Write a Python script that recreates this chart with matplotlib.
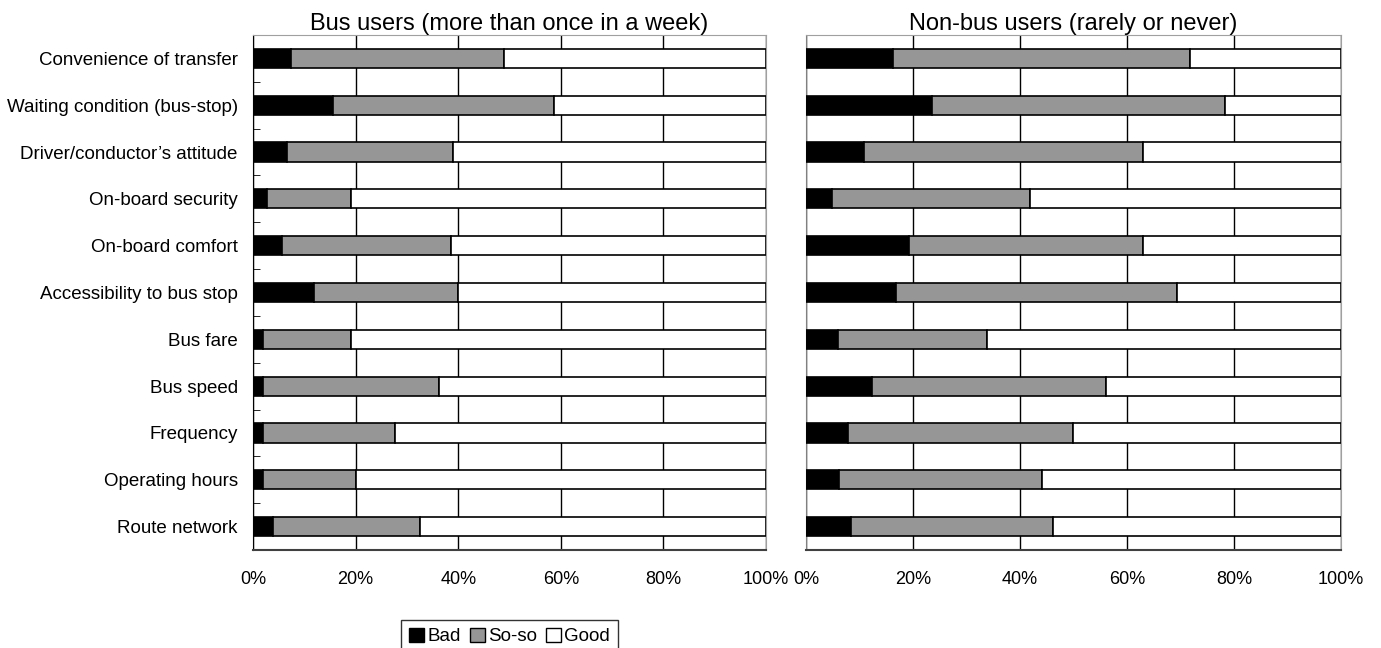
import numpy as np
import matplotlib.pyplot as plt
from matplotlib.patches import Patch

plt.rcParams['font.family'] = ['Liberation Sans', 'DejaVu Sans']

categories = ['Convenience of transfer', 'Waiting condition (bus-stop)',
              'Driver/conductor\u2019s attitude', 'On-board security',
              'On-board comfort', 'Accessibility to bus stop', 'Bus fare',
              'Bus speed', 'Frequency', 'Operating hours', 'Route network']

# percent of respondents: Bad / So-so (Good is the remainder)
users_bad = [7.5, 15.6, 6.6, 2.8, 5.6, 11.9, 1.9, 1.9, 1.9, 1.9, 3.9]
users_soso = [41.5, 43.1, 32.4, 16.3, 33.0, 28.1, 17.2, 34.4, 25.7, 18.2, 28.7]

nonusers_bad = [16.2, 23.6, 10.8, 4.9, 19.2, 16.9, 5.9, 12.3, 7.9, 6.2, 8.5]
nonusers_soso = [55.5, 54.8, 52.2, 36.9, 43.8, 52.5, 27.9, 43.7, 42.0, 37.9, 37.6]

titles = ['Bus users (more than once in a week)', 'Non-bus users (rarely or never)']
xticks = [0, 20, 40, 60, 80, 100]
xticklabels = ['0%', '20%', '40%', '60%', '80%', '100%']

gray = '#969696'

fig = plt.figure(figsize=(13.81, 6.48), dpi=100)
ax1 = fig.add_axes([0.1832, 0.1512, 0.3715, 0.7948])
ax2 = fig.add_axes([0.5836, 0.1512, 0.3874, 0.7948])

y = np.arange(len(categories))

for ax, bad, soso, title in [(ax1, users_bad, users_soso, titles[0]),
                             (ax2, nonusers_bad, nonusers_soso, titles[1])]:
    bad = np.array(bad)
    soso = np.array(soso)
    good = 100 - bad - soso
    ax.barh(y, bad, height=0.41, color='black', edgecolor='black', linewidth=1.2, zorder=3)
    ax.barh(y, soso, left=bad, height=0.41, color=gray, edgecolor='black', linewidth=1.2, zorder=3)
    ax.barh(y, good, left=bad + soso, height=0.41, color='white', edgecolor='black', linewidth=1.2, zorder=3)

    ax.set_xlim(0, 100)
    ax.set_ylim(len(categories) - 0.5, -0.5)
    ax.set_xticks(xticks)
    ax.set_xticklabels(xticklabels, fontsize=13)
    ax.tick_params(axis='x', length=0, pad=15)
    ax.grid(axis='x', color='black', linewidth=1, zorder=0)
    ax.set_title(title, fontsize=17, pad=1)

    for side in ['top', 'right']:
        ax.spines[side].set_color('#a0a0a0')
    ax.spines['left'].set_color('#808080')
    ax.spines['bottom'].set_color('#404040')
    ax.spines['bottom'].set_linewidth(1.5)

ax1.set_yticks(y)
ax1.set_yticklabels(categories, fontsize=13.5)
ax1.tick_params(axis='y', length=0, pad=11)
ax1.spines['left'].set_color('black')
ax1.set_yticks(np.arange(len(categories) + 1) - 0.5, minor=True)
ax1.tick_params(axis='y', which='minor', direction='in', length=5, color='black')

ax2.set_yticks([])

handles = [Patch(facecolor='black', edgecolor='black', label='Bad'),
           Patch(facecolor=gray, edgecolor='black', label='So-so'),
           Patch(facecolor='white', edgecolor='black', label='Good')]
leg = fig.legend(handles=handles, loc='upper center', bbox_to_anchor=(0.369, 0.0432),
                 ncol=3, fontsize=13.5, frameon=True, fancybox=False,
                 handlelength=0.8, handleheight=0.8, handletextpad=0.2,
                 columnspacing=0.45, borderpad=0.4, borderaxespad=0)
leg.get_frame().set_edgecolor('black')
leg.get_frame().set_linewidth(1)

fig.savefig('out.png', dpi=100)
